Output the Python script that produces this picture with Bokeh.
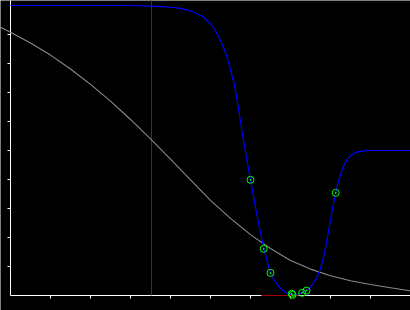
from bokeh.plotting import figure
from bokeh.models import Range1d
from bokeh.embed import file_html
from bokeh.resources import INLINE

# grey curve
gray_x = [-0.25, 0.0, 0.5, 1.0, 1.5, 2.0, 2.5, 3.0, 3.5, 4.0, 4.5, 5.0, 5.5, 6.0,
          6.5, 7.0, 7.5, 8.0, 8.5, 9.0, 9.5, 10.0]
gray_y = [9.25, 9.08, 8.71, 8.29, 7.81, 7.28, 6.70, 6.07, 5.40, 4.70, 3.99, 3.28, 2.66, 2.10,
          1.62, 1.21, 0.91, 0.68, 0.51, 0.38, 0.27, 0.16]

# blue curve
blue_x = [0.0, 3.0, 3.5, 3.8, 4.0, 4.2, 4.4, 4.6, 4.8, 5.0, 5.1, 5.2, 5.3, 5.4, 5.5, 5.6,
          5.7, 5.8, 5.9, 6.0, 6.1, 6.2, 6.33, 6.42, 6.5, 6.6, 6.7, 6.8, 6.9, 7.0, 7.05,
          7.15, 7.25, 7.35, 7.45, 7.55, 7.65, 7.75, 7.85, 7.95, 8.05, 8.13, 8.2, 8.3,
          8.4, 8.5, 8.6, 8.7, 8.85, 9.0, 10.0]
blue_y = [10.0, 10.0, 9.98, 9.96, 9.94, 9.91, 9.86, 9.76, 9.62, 9.38, 9.18, 8.93, 8.64, 8.28,
          7.8, 7.25, 6.45, 5.55, 4.75, 3.99, 3.22, 2.5, 1.65, 1.15, 0.78, 0.52, 0.32, 0.18,
          0.09, 0.04, 0.03, 0.04, 0.08, 0.14, 0.22, 0.38, 0.6, 0.92, 1.45, 2.2, 3.0, 3.54,
          3.95, 4.38, 4.66, 4.82, 4.91, 4.96, 4.99, 5.0, 5.0]

# sampled points
pts_x = [6.0, 6.33, 6.5, 7.03, 7.05, 7.29, 7.4, 8.13]
pts_y = [3.99, 1.61, 0.78, 0.06, 0.02, 0.09, 0.17, 3.54]

interval = [6.27, 7.2]
marker_x = 3.525
xticks = [1, 2, 3, 4, 5, 6, 7, 8, 9]
yticks = [1, 2, 3, 4, 5, 6, 7, 8, 9]

XPX = 40.0   # px per x unit
YPX = 29.0   # px per y unit
ymin, ymax = -15 / YPX, 295 / YPX

p = figure(width=410, height=310, x_range=Range1d(-0.25, 10.0), y_range=Range1d(ymin, ymax),
           output_backend="svg", toolbar_location=None, x_axis_type=None, y_axis_type=None,
           min_border=0, background_fill_color="black", border_fill_color="black",
           outline_line_color=None)

# axes
tl = 3.0
p.segment(x0=[0, 0], y0=[0, 0], x1=[0, 10.5], y1=[ymax + 1, 0], line_color="white", line_width=1)
p.segment(x0=xticks, y0=[0] * len(xticks), x1=xticks, y1=[-tl / YPX] * len(xticks),
          line_color="white", line_width=1)
p.segment(x0=[0] * len(yticks), y0=yticks, x1=[-tl / XPX] * len(yticks), y1=yticks,
          line_color="white", line_width=1)

# marker line and interval
p.segment(x0=[marker_x], y0=[0], x1=[marker_x], y1=[ymax + 1], line_color="#800080", line_width=1)
p.segment(x0=[interval[0]], y0=[0], x1=[interval[1]], y1=[0], line_color="#aa0000", line_width=1)

p.line(gray_x, gray_y, line_color="#8a8a8a", line_width=1.1)
p.line(blue_x, blue_y, line_color="#0000ff", line_width=1.2)
p.scatter(pts_x, pts_y, marker="circle_dot", size=7, fill_color=None, line_color="#00ff00",
          line_width=1)

open("out.html", "w").write(file_html(p, INLINE))
